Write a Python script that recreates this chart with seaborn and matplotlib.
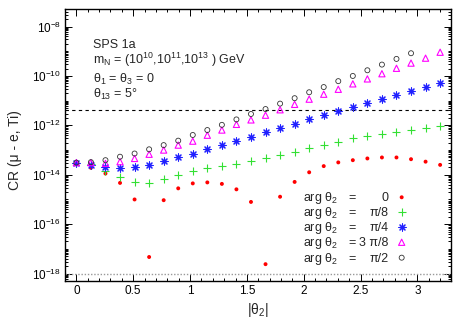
import numpy as np
import pandas as pd
import matplotlib
matplotlib.use("Agg")
import matplotlib.pyplot as plt
import seaborn as sns
from matplotlib.ticker import (FixedLocator, LogLocator, MultipleLocator,
                               LogFormatterMathtext, NullFormatter, FuncFormatter)

# |theta_2| grid (same for every series)
theta2_abs = [0.0, 0.128, 0.256, 0.384, 0.512, 0.64, 0.768, 0.896, 1.024, 1.152,
              1.28, 1.408, 1.536, 1.664, 1.792, 1.92, 2.048, 2.176, 2.304, 2.432,
              2.56, 2.688, 2.816, 2.944, 3.072, 3.2]

# log10 CR(mu - e, Ti), one list per arg(theta_2)
log_cr_arg_0 = [-13.51, -13.72, -13.95, -14.33, -15.00, -17.33, -15.03, -14.55, -14.35, -14.31,
                -14.37, -14.59, -15.10, -17.62, -14.89, -14.29, -13.90, -13.65, -13.50, -13.41,
                -13.34, -13.30, -13.30, -13.37, -13.47, -13.60]
log_cr_arg_pi8 = [-13.51, -13.57, -13.85, -14.11, -14.30, -14.33, -14.19, -14.00, -13.85, -13.74,
                  -13.64, -13.57, -13.45, -13.34, -13.20, -13.07, -12.93, -12.80, -12.66, -12.53,
                  -12.43, -12.35, -12.27, -12.19, -12.11, -12.03]
log_cr_arg_pi4 = [-13.51, -13.61, -13.68, -13.74, -13.70, -13.61, -13.46, -13.30, -13.15, -12.97,
                  -12.80, -12.63, -12.46, -12.28, -12.10, -11.93, -11.76, -11.59, -11.43, -11.26,
                  -11.11, -10.93, -10.77, -10.61, -10.45, -10.28]
log_cr_arg_3pi8 = [-13.51, -13.51, -13.54, -13.47, -13.34, -13.17, -13.00, -12.80, -12.64, -12.40,
                   -12.19, -11.96, -11.78, -11.59, -11.37, -11.15, -10.94, -10.74, -10.54, -10.32,
                   -10.12, -9.91, -9.69, -9.48, -9.28, -9.04]
log_cr_arg_pi2 = [-13.51, -13.49, -13.41, -13.27, -13.14, -12.97, -12.80, -12.62, -12.39, -12.19,
                  -11.98, -11.76, -11.54, -11.34, -11.12, -10.90, -10.66, -10.45, -10.21, -10.00,
                  -9.77, -9.54, -9.31, -9.08]

arg_labels = ["0", "π/8", "π/4", "3 π/8", "π/2"]

cr_limit_present = 4.3e-12
cr_limit_future = 1e-18

y_major = [1e-18, 1e-16, 1e-14, 1e-12, 1e-10, 1e-8]

sns.set_style("ticks")
plt.rcParams['font.family'] = ['Liberation Sans', 'DejaVu Sans']
plt.rcParams['mathtext.fontset'] = 'custom'
plt.rcParams['mathtext.rm'] = 'Liberation Sans'
plt.rcParams['mathtext.it'] = 'Liberation Sans:italic'
plt.rcParams['mathtext.bf'] = 'Liberation Sans:bold'

styles = [
    dict(marker="o", s=8, color="#ff0000", edgecolor="none", linewidth=0),
    dict(marker="+", s=34, color="#33e033", linewidth=0.8),
    dict(marker=(8, 2, 0), s=26, color="#2020ff", linewidth=0.8),
    dict(marker="^", s=20, color="#ff00ff", facecolor="none", edgecolor="#ff00ff", linewidth=0.8),
    dict(marker="o", s=13, color="#333333", facecolor="none", edgecolor="#333333", linewidth=0.6),
]
all_series = [log_cr_arg_0, log_cr_arg_pi8, log_cr_arg_pi4, log_cr_arg_3pi8, log_cr_arg_pi2]

fig = plt.figure(figsize=(4.67, 3.27), dpi=100)
ax = fig.add_axes([0.1392, 0.1407, 0.8276, 0.8309])

for vals, st in zip(all_series, styles):
    df = pd.DataFrame({"theta": theta2_abs[:len(vals)], "cr": 10 ** np.array(vals)})
    sns.scatterplot(data=df, x="theta", y="cr", ax=ax, legend=False, zorder=3, **st)

ax.axhline(cr_limit_present, color="black", lw=0.8, ls=(0, (3, 3)), zorder=2)
ax.axhline(cr_limit_future, color="#999999", lw=1.0, ls=(0, (1, 1.3)), zorder=2)

ax.set_yscale("log")
ax.set_xlim(-0.1, 3.3)
ax.set_ylim(5e-19, 5e-8)

ax.xaxis.set_major_locator(MultipleLocator(0.5))
ax.xaxis.set_minor_locator(MultipleLocator(0.1))
ax.xaxis.set_major_formatter(FuncFormatter(lambda v, p: f"{v:g}"))
ax.yaxis.set_major_locator(FixedLocator(y_major))
ax.yaxis.set_major_formatter(LogFormatterMathtext())
ax.yaxis.set_minor_locator(LogLocator(base=10, subs=np.arange(1, 10), numticks=100))
ax.yaxis.set_minor_formatter(NullFormatter())

ax.tick_params(which="both", direction="in", top=True, right=True, width=0.7, colors="black")
ax.tick_params(which="major", length=5, labelsize=8.5)
ax.tick_params(which="minor", length=2.5)
ax.tick_params(axis="x", pad=3)
ax.tick_params(axis="y", pad=3)
for sp in ax.spines.values():
    sp.set_color("black")
    sp.set_linewidth(1.0)

ax.set_xlabel("")
ax.set_ylabel("")
fig.text(0.032, 0.541, "CR (μ - e, Ti)", rotation=90, ha="center", va="center", fontsize=10)
fig.text(0.5525, 0.052, "|θ$_2$|", ha="center", va="center", fontsize=10)

# info block
info = ["SPS 1a",
        "m$_\\mathrm{N}$ = (10$^{10}$,10$^{11}$,10$^{13}$ ) GeV",
        "θ$_1$ = θ$_3$ = 0",
        "θ$_{13}$ = 5°"]
for txt, yb in zip(info, [0.8565, 0.7975, 0.7276, 0.6724]):
    ax.text(0.0724, yb, txt, transform=ax.transAxes, ha="left", va="baseline", fontsize=9)

# gnuplot-style key
row_text_y = [0.2926, 0.2385, 0.1822, 0.1270, 0.0699]
row_mark_y = [0.3081, 0.2539, 0.1977, 0.1425, 0.0858]
for lab, st, ty, my in zip(arg_labels, styles, row_text_y, row_mark_y):
    ax.text(0.6166, ty, "arg θ$_2$", transform=ax.transAxes, ha="left", va="baseline", fontsize=9)
    ax.text(0.7418, ty, "=", transform=ax.transAxes, ha="center", va="baseline", fontsize=9)
    ax.text(0.8365, ty, lab, transform=ax.transAxes, ha="right", va="baseline", fontsize=9)
    key = dict(st)
    ax.scatter([0.8711], [my], transform=ax.transAxes, zorder=4, clip_on=False, **key)

fig.savefig("out.png", dpi=100)
